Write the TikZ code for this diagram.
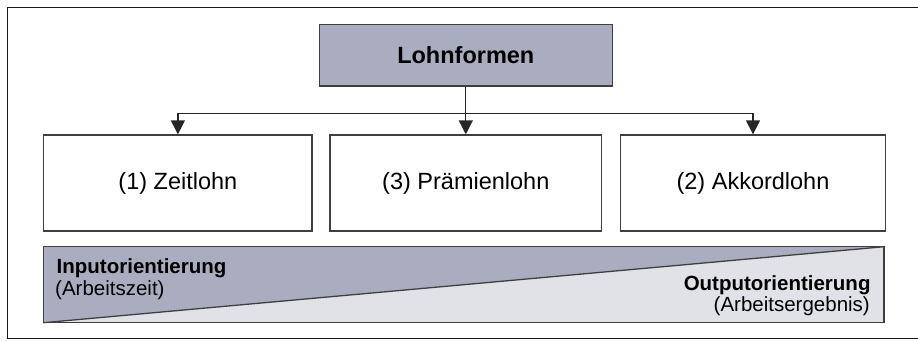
\documentclass[tikz,border=0pt]{standalone}
\usepackage{fontspec}
\setmainfont{Liberation Sans}
\usetikzlibrary{arrows.meta}
\definecolor{headfill}{HTML}{AAADBF}
\definecolor{lightfill}{HTML}{E1E2E7}
\definecolor{edgegray}{HTML}{3F3F3F}
\tikzset{
  box/.style={draw=edgegray, line width=1.3pt, rectangle, inner sep=0pt,
    minimum height=96pt, font=\fontsize{23.5}{28}\selectfont},
  headbox/.style={box, fill=headfill, minimum width=293pt, minimum height=61.7pt,
    font=\fontsize{23.5}{28}\selectfont\bfseries},
  conn/.style={draw=black!85, line width=1.3pt,
    -{Triangle[length=14pt,width=14pt]}},
  bandtext/.style={inner sep=0pt, font=\fontsize{20.5}{24}\selectfont},
}
\begin{document}
\begin{tikzpicture}[x=1pt, y=-1pt]
\useasboundingbox (0,0) rectangle (918,341);
% outer frame, open towards the right edge
\draw[line width=1.6pt, black!90] (918,7.5) -- (7.3,7.5) -- (7.3,338.3) -- (918,338.3);

% heading and the three wage forms
\node[headbox] (top) at (465.8,55.2) {Lohnformen};
\node[box, minimum width=268.3pt] (zeit)  at (177.9,183) {(1) Zeitlohn};
\node[box, minimum width=271.7pt] (praem) at (465.8,183) {(3) Prämienlohn};
\node[box, minimum width=264.6pt] (akk)   at (753,183)   {(2) Akkordlohn};

% connectors
\coordinate (bus) at (465.8,113.3);
\draw[conn] (top.south) -- (praem.north);
\draw[conn] (bus) -| (zeit.north);
\draw[conn] (bus) -| (akk.north);

% orientation band split along its diagonal
\coordinate (bl) at (43.3,322.7);
\coordinate (tl) at (43.3,246.7);
\coordinate (tr) at (884,246.7);
\coordinate (br) at (884,322.7);
\fill[headfill] (tl) -- (tr) -- (bl) -- cycle;
\fill[lightfill] (tr) -- (br) -- (bl) -- cycle;
\draw[edgegray, line width=1.3pt] (bl) -- (tr);
\draw[edgegray, line width=1.3pt] (tl) rectangle (br);

\node[bandtext, anchor=base west, font=\fontsize{20.5}{24}\selectfont\bfseries] (inp) at (56.5,273.3) {Inputorientierung};
\node[bandtext, anchor=base west] (inpsub) at (55,295.5) {(Arbeitszeit)};
\node[bandtext, anchor=base east, font=\fontsize{20.5}{24}\selectfont\bfseries] (outp) at (870.7,290) {Outputorientierung};
\node[bandtext, anchor=base east] (outpsub) at (870,311.7) {(Arbeitsergebnis)};
\end{tikzpicture}
\end{document}
